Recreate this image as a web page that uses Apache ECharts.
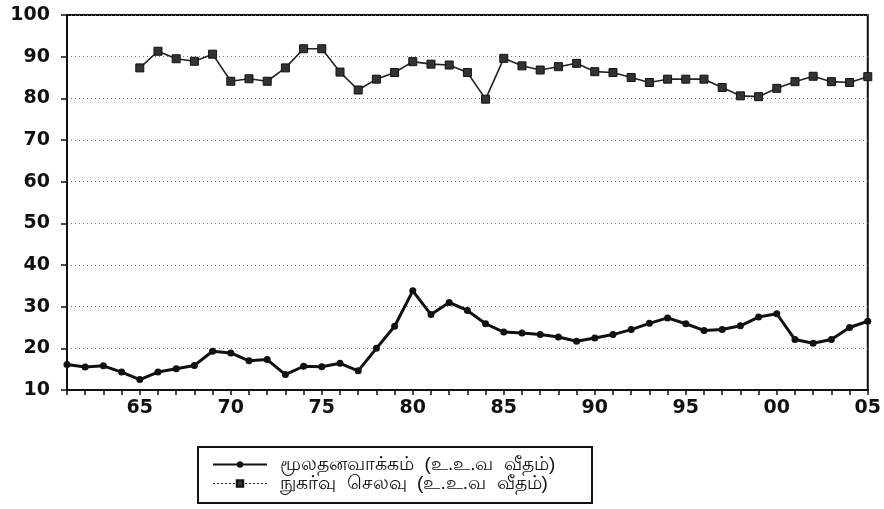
<!DOCTYPE html>
<html>
<head>
<meta charset="utf-8">
<script src="https://cdn.jsdelivr.net/npm/echarts@6/dist/echarts.min.js"></script>
<style>
html,body{margin:0;padding:0;background:#fff;}
#c{width:884px;height:509px;}
</style>
</head>
<body>
<div id="c"></div>
<script>
var years = [];
for (var y = 1961; y <= 2005; y++) years.push(String(y));

var capitalFormation = [
  16.1, 15.5, 15.8, 14.3, 12.5, 14.3, 15.1, 15.9, 19.3, 18.9,
  17.0, 17.3, 13.7, 15.7, 15.6, 16.4, 14.6, 20.0, 25.3, 33.8,
  28.1, 31.0, 29.1, 25.9, 23.9, 23.7, 23.3, 22.7, 21.7, 22.5,
  23.3, 24.5, 26.0, 27.3, 25.9, 24.3, 24.5, 25.4, 27.5, 28.3,
  22.1, 21.2, 22.1, 25.0, 26.5
];

var consumption = [
  null, null, null, null, 87.3, 91.3, 89.5, 88.9, 90.6, 84.1,
  84.7, 84.1, 87.3, 91.9, 91.9, 86.3, 82.0, 84.6, 86.2, 88.8,
  88.2, 88.0, 86.2, 79.8, 89.6, 87.8, 86.8, 87.6, 88.4, 86.4,
  86.2, 85.0, 83.8, 84.6, 84.6, 84.6, 82.6, 80.6, 80.4, 82.4,
  84.0, 85.3, 84.0, 83.8, 85.2
];

var seriesNames = ['மூலதனவாக்கம்  (உ.உ.வ  வீதம்)', 'நுகர்வு  செலவு  (உ.உ.வ  வீதம்)'];
var yMin = 10, yMax = 100, yStep = 10;

var chart = echarts.init(document.getElementById('c'), null, {renderer: 'canvas'});
var tickFont = {color: '#111', fontSize: 19, fontWeight: 'bold', fontFamily: 'DejaVu Sans, Liberation Sans, Arial, sans-serif'};

chart.setOption({
  backgroundColor: '#fff',
  animation: false,
  grid: {left: 67, right: 13, top: 15, bottom: 119, show: true, borderColor: '#111', borderWidth: 2, backgroundColor: 'transparent'},
  xAxis: {
    type: 'category',
    data: years,
    boundaryGap: false,
    axisLine: {lineStyle: {color: '#111', width: 2}},
    axisTick: {show: true, interval: 0, length: 5, lineStyle: {color: '#111', width: 1.5}},
    axisLabel: Object.assign({
      interval: function (i, v) { return Number(v) % 5 === 0; },
      formatter: function (v) { return v.slice(2); },
      margin: 9
    }, tickFont),
    splitLine: {show: false}
  },
  yAxis: {
    type: 'value',
    min: yMin, max: yMax, interval: yStep,
    axisLine: {show: true, lineStyle: {color: '#111', width: 2}},
    axisTick: {show: true, length: 6, lineStyle: {color: '#111', width: 1.5}},
    axisLabel: Object.assign({margin: 17}, tickFont),
    splitLine: {show: true, lineStyle: {color: '#777', width: 1, type: [1, 3]}}
  },
  legend: {
    orient: 'vertical',
    left: 207,
    top: 450,
    itemWidth: 54,
    itemHeight: 8,
    itemGap: 0,
    textStyle: {color: '#111', fontSize: 19, lineHeight: 19, padding: [0, 0, 0, 8]},
    data: [
      {name: seriesNames[0]},
      {name: seriesNames[1], lineStyle: {type: [2, 2], width: 1}}
    ]
  },
  graphic: [{
    type: 'rect',
    shape: {x: 198, y: 447, width: 394, height: 56},
    style: {fill: 'none', stroke: '#111', lineWidth: 2}
  }],
  series: [
    {
      name: seriesNames[0],
      type: 'line',
      data: capitalFormation,
      symbol: 'circle',
      symbolSize: 7,
      itemStyle: {color: '#111'},
      lineStyle: {color: '#111', width: 3}
    },
    {
      name: seriesNames[1],
      type: 'line',
      data: consumption,
      symbol: 'rect',
      symbolSize: 8,
      connectNulls: false,
      itemStyle: {color: '#333', borderColor: '#111', borderWidth: 1},
      lineStyle: {color: '#222', width: 1.6}
    }
  ]
});
</script>
</body>
</html>
